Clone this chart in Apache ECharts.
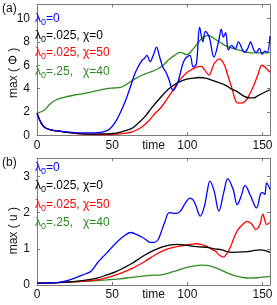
<!DOCTYPE html>
<html><head><meta charset="utf-8">
<script src="https://cdn.jsdelivr.net/npm/echarts@6/dist/echarts.min.js"></script>
<style>html,body{margin:0;padding:0;background:#fff}#c{width:277px;height:305px}</style>
</head><body><div id="c"></div>
<script>
// ---- Panel (a): max(Phi) vs time ----
var tA_blue = [0,3,6,10,15,20,25,30,35,40,44,48,52,56,59,62,65.5,69.7,71.5,73.1,75.2,77.5,79.5,81.6,83.7,85.8,88,90.5,93.3,95.5,97.5,99.7,101.8,103.9,106,108.2,110.3,112,114.6,117.7,120.9,122.6,124,125.5,127.3,129.4,131.9,134,136.8,138.2,140.4,142,144.2,145.9,148,149.6,151.7,153.2,155];
var vA_blue = [1.9,1.0,0.6,0.45,0.35,0.28,0.22,0.2,0.2,0.22,0.3,0.5,1.1,2.1,3.0,4.1,5.4,6.4,6.6,6.85,6.3,6.9,7.55,6.7,5.85,5.4,4.7,3.85,4.4,5.4,6.3,6.7,6.85,5.85,6.1,9.25,8.0,8.9,8.4,6.7,8.1,9.1,8.4,8.8,7.3,7.7,7.4,8.0,7.3,7.1,7.5,8.0,7.3,7.1,7.45,6.95,7.2,7.1,8.5];
var tA_black = [0,3,6,10,15,20,25,30,35,40,45,50,55,60,63.3,67,71.8,76,82.6,87,91.1,95,99.7,104,108.2,112,116.7,121,125.2,129,133.7,137,141.2,144,146.5,150,155];
var vA_black = [1.9,1.0,0.6,0.45,0.35,0.25,0.18,0.12,0.1,0.1,0.12,0.15,0.25,0.45,0.6,1.0,1.6,2.3,3.3,3.9,4.3,4.6,4.8,4.9,4.95,4.9,4.7,4.5,4.3,4.0,3.7,3.4,3.2,3.2,3.35,3.6,3.9];
var tA_red = [0,3,6,10,15,20,25,30,35,40,45,50,55,60,63.3,67,70,74,78,82.6,87,91.1,94,97.5,100,103.9,106.5,109.2,111.5,114.5,116,117.7,119.5,121,123,125.2,127,129.4,132.6,135,138,141,144.3,147,149.6,152,155];
var vA_red = [1.9,1.0,0.6,0.45,0.35,0.25,0.18,0.12,0.08,0.07,0.07,0.08,0.12,0.2,0.3,0.5,0.73,1.2,1.8,2.4,3.2,4.0,4.6,5.1,5.4,5.7,5.85,5.9,5.6,5.15,5.5,6.1,6.4,6.55,6.4,5.85,5.1,4.15,2.85,2.75,2.85,3.4,4.3,5.2,6.0,5.8,5.4];
var tA_green = [0,4.8,8,12.2,18,25,30,35.6,41,46.3,51,55.8,60,65.4,69.9,75,80.5,84,87,91,95.4,99.7,103.9,107,109.2,111.5,113.5,116,118.8,122,125,128,131.6,136,140,145,150,155];
var vA_green = [1.9,2.15,2.6,3.0,3.25,3.45,3.55,3.7,3.85,4.0,4.05,4.1,4.4,4.85,5.14,5.4,5.7,6.0,6.4,6.8,7.1,6.9,7.4,7.9,8.25,8.45,8.55,8.45,8.2,7.95,7.7,7.55,7.4,7.25,7.1,7.05,7.05,7.1];

// ---- Panel (b): max(u) vs time ----
var tB_blue = [0,5,10,14.4,20,25,30,35.6,38,40,43,46.3,50,54.8,59,62.2,66.4,69.9,72.5,75.2,78,80.5,82.5,84.8,88,91.1,93,95.4,98.5,101.8,103.8,105.6,108.6,111.4,113.3,115,117.8,121,124.2,126.9,130.5,133.2,135.8,138.4,142.2,146,149,150.2,151.5,152.8,155];
var vB_blue = [0.05,0.05,0.06,0.07,0.12,0.19,0.27,0.37,0.48,0.6,0.74,0.88,1.05,1.25,1.39,1.45,1.39,1.32,1.25,1.18,1.18,1.25,1.45,1.71,2.0,1.98,1.98,2.04,2.25,2.4,2.35,2.2,1.9,2.18,2.6,2.87,2.6,2.04,2.55,2.94,2.64,2.22,2.45,2.75,2.45,2.13,2.54,2.55,2.5,2.82,2.64];
var tB_black = [0,10,20,30,40,46,52.6,58,63.3,67,71.8,78.4,84,89,93,97.5,102,106,110,114.5,118,123,126,129.4,134,140,144,148.5,152,155];
var vB_black = [0.05,0.06,0.08,0.12,0.19,0.27,0.37,0.48,0.6,0.7,0.83,0.97,1.06,1.11,1.12,1.11,1.08,1.06,1.05,1.03,1.0,0.97,0.93,0.9,0.91,0.92,0.95,0.97,0.95,0.9];
var tB_red = [0,10,20,30,40,46,52.6,58,63.3,67,71.8,78.4,84,89,93,97.5,102,106,109,112.4,115.5,118.8,121.5,124.1,126,128.4,131,133.7,137,140,143,145.5,147,148.3,150.3,151.5,152.8,155];
var vB_red = [0.05,0.06,0.08,0.1,0.14,0.2,0.28,0.36,0.46,0.54,0.65,0.83,0.95,1.02,1.06,1.09,1.12,1.14,1.12,1.08,1.0,0.93,0.82,0.77,0.85,1.02,1.3,1.53,1.68,1.76,1.68,1.53,1.58,1.67,1.96,1.8,1.67,1.73];
var tB_green = [0,10,25,35,46.3,55,63,71.8,77,82.6,90,97.5,104,109.2,113,116.7,122,127.3,132,138,142,146.5,150,155];
var vB_green = [0.05,0.06,0.09,0.11,0.14,0.17,0.21,0.25,0.27,0.28,0.36,0.46,0.52,0.55,0.54,0.51,0.42,0.32,0.25,0.2,0.19,0.2,0.22,0.24];

// ---- Text ----
var legendA = ['{n|λ}{s|0}{n|=0}', '{n|λ}{s|0}{n|=.025, χ=0}', '{n|λ}{s|0}{n|=.025, χ=50}', '{n|λ}{s|0}{n|=.25,   χ=40}'];
var legendB = legendA;
var seriesColors = ['#0000ff', '#000000', '#ff0000', '#2e8b22'];
var panelLabels = ['(a)', '(b)'];
var yNames = ['max ( Φ )', 'max ( u )'];
var xName = 'time';
var xTicks = {min: 0, max: 155, interval: 50};
var yTicksA = {min: 0, max: 11.2, interval: 2};
var yTicksB = {min: 0, max: 3.5, interval: 1};

function pairs(t, v) { return t.map(function (x, i) { return [x, v[i]]; }); }

var FONT = 'Liberation Sans, Arial, sans-serif';
var AX = '#7a7a7a';

function mainX(g) {
  return {
    type: 'value', gridIndex: g, min: xTicks.min, max: xTicks.max, interval: xTicks.interval,
    position: 'bottom',
    name: xName, nameLocation: 'middle', nameGap: 10, nameMoveOverlap: false,
    nameTextStyle: {color: '#111', fontSize: 12, fontFamily: FONT, verticalAlign: 'middle'},
    axisLine: {show: true, onZero: false, lineStyle: {color: AX, width: 1}},
    axisTick: {show: true, inside: true, length: 3, lineStyle: {color: AX}},
    axisLabel: {show: true, color: '#111', fontSize: 12, fontFamily: FONT, margin: 4, showMaxLabel: false},
    splitLine: {show: false}
  };
}
function boxX(g) {
  return {
    type: 'value', gridIndex: g, min: xTicks.min, max: xTicks.max, interval: xTicks.interval,
    position: 'top',
    axisLine: {show: true, onZero: false, lineStyle: {color: AX, width: 1}},
    axisTick: {show: true, inside: true, length: 3, lineStyle: {color: AX}},
    axisLabel: {show: false}, splitLine: {show: false}
  };
}
function mainY(g, tk, name, shift) {
  return {
    type: 'value', gridIndex: g, min: tk.min, max: tk.max, interval: tk.interval,
    position: 'left',
    name: name, nameLocation: 'middle', nameGap: 17, nameRotate: 90, nameMoveOverlap: false,
    nameTextStyle: {color: '#111', fontSize: 12, fontFamily: FONT, padding: [0, shift, 0, 0]},
    axisLine: {show: true, onZero: false, lineStyle: {color: AX, width: 1}},
    axisTick: {show: true, inside: true, length: 3, lineStyle: {color: AX}},
    axisLabel: {show: true, color: '#111', fontSize: 12, fontFamily: FONT, margin: 7, showMaxLabel: false},
    splitLine: {show: false}
  };
}
function boxY(g, tk) {
  return {
    type: 'value', gridIndex: g, min: tk.min, max: tk.max, interval: tk.interval,
    position: 'right',
    axisLine: {show: true, onZero: false, lineStyle: {color: AX, width: 1}},
    axisTick: {show: true, inside: true, length: 3, lineStyle: {color: AX}},
    axisLabel: {show: false}, splitLine: {show: false}
  };
}

var dataA = [pairs(tA_blue, vA_blue), pairs(tA_black, vA_black), pairs(tA_red, vA_red), pairs(tA_green, vA_green)];
var dataB = [pairs(tB_blue, vB_blue), pairs(tB_black, vB_black), pairs(tB_red, vB_red), pairs(tB_green, vB_green)];

var series = [];
[dataA, dataB].forEach(function (set, g) {
  set.forEach(function (d, i) {
    series.push({
      type: 'line', xAxisIndex: g * 2, yAxisIndex: g * 2, data: d,
      showSymbol: false, smooth: 0.35, z: 10 - i,
      lineStyle: {color: seriesColors[i], width: 1.3},
      itemStyle: {color: seriesColors[i]}, animation: false
    });
  });
});

var rich = {
  n: {fontSize: 12, fontFamily: FONT, verticalAlign: 'middle', lineHeight: 16},
  s: {fontSize: 9, fontFamily: FONT, verticalAlign: 'bottom', lineHeight: 16}
};
var graphics = [];
var legAy = [13, 30, 47, 66];
var legBy = [162, 180, 199, 217];
legendA.forEach(function (txt, i) {
  graphics.push({type: 'text', left: 35, top: legAy[i], z: 50,
    style: {text: txt, fill: seriesColors[i], rich: rich}});
});
legendB.forEach(function (txt, i) {
  graphics.push({type: 'text', left: 35, top: legBy[i], z: 50,
    style: {text: txt, fill: seriesColors[i], rich: rich}});
});
graphics.push({type: 'text', left: 2, top: 3, style: {text: panelLabels[0], fill: '#111', font: '12px ' + FONT}});
graphics.push({type: 'text', left: 2, top: 157, style: {text: panelLabels[1], fill: '#111', font: '12px ' + FONT}});

var chart = echarts.init(document.getElementById('c'), null, {renderer: 'canvas'});
chart.setOption({
  animation: false,
  backgroundColor: '#ffffff',
  grid: [
    {left: 27.5, top: 4.5, width: 242.5, height: 130.8},
    {left: 27.5, top: 158.3, width: 242.5, height: 126.7}
  ],
  xAxis: [mainX(0), boxX(0), mainX(1), boxX(1)],
  yAxis: [mainY(0, yTicksA, yNames[0], 6), boxY(0, yTicksA), mainY(1, yTicksB, yNames[1], 18), boxY(1, yTicksB)],
  series: series,
  graphic: graphics
});
</script></body></html>
